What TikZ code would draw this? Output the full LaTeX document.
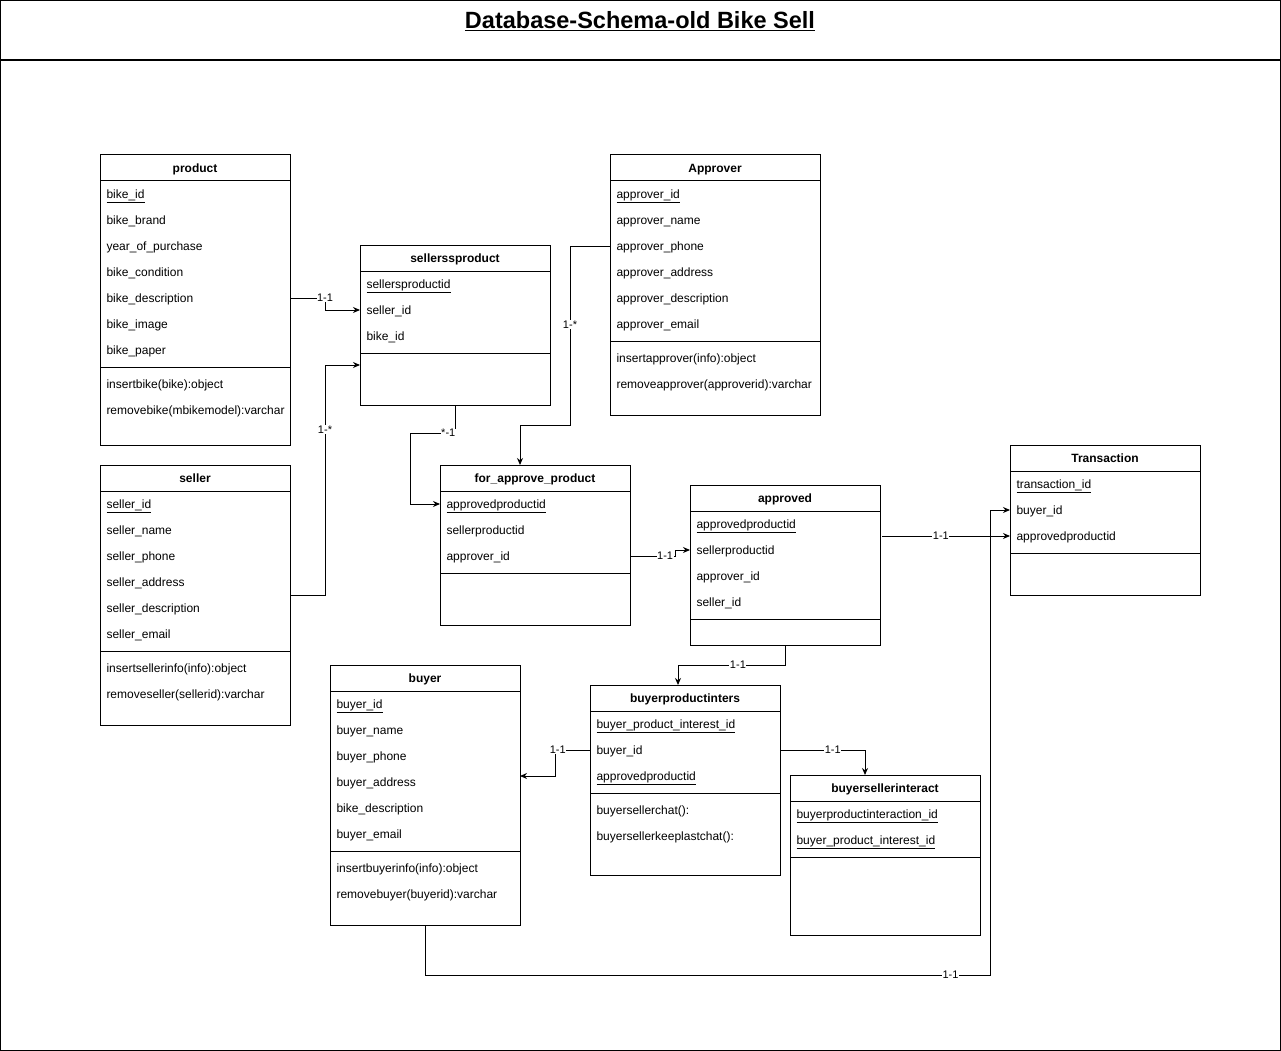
\documentclass[tikz,border=0pt]{standalone}
\usepackage{fontspec}
\setmainfont{Liberation Sans}
\usetikzlibrary{arrows.meta, positioning}

% #1 name, #2/#3 top left, #4 width, #5 height, #6 title, #7 fields, #8 methods
\newcommand{\dbtable}[8]{%
  \node[tbl, minimum width=#4, minimum height=#5] (#1) at (#2,#3) {};
  \node[thead] (#1-h) at ({#2+#4/2},{#3+13}) {#6};
  \draw (#2,{#3+26}) -- ++(#4,0);
  \foreach \f [count=\i] in {#7} {
    \node[field] (#1-\i) at ({#2+6},{#3+13+26*\i}) {\f};
    \xdef\nrows{\i}
  }
  \draw (#2,{#3+30+26*\nrows}) -- ++(#4,0);
  \foreach \m [count=\j] in {#8}
    \node[field] (#1-m\j) at ({#2+6},{#3+21+26*\nrows+26*\j}) {\m};
}

\begin{document}
\begin{tikzpicture}[x=1pt, y=-1pt, line width=1pt,
    tbl/.style={draw, anchor=north west, inner sep=0, outer sep=0},
    thead/.style={inner sep=0, text height=9.5pt, text depth=0.5pt,
      font=\fontsize{12}{14}\selectfont\bfseries},
    field/.style={anchor=west, inner sep=0, text height=9.5pt, text depth=0.5pt,
      font=\fontsize{12}{14}\selectfont},
    conn/.style={-{Stealth[length=7pt,width=6pt]}},
    lab/.style={fill=white, inner sep=0.5pt, font=\fontsize{11}{12}\selectfont}]
  \useasboundingbox (0,0) rectangle (1281,1051);
  \draw[line width=1.3pt] (0.7,0.7) rectangle (1280.3,1050.3);
  \draw[line width=1.3pt] (0.7,60) -- (1280.3,60);
  \node[font=\fontsize{23.5}{26}\selectfont\bfseries] (title) at (640,21)
    {\underline{Database-Schema-old Bike Sell}};

  % tables
  \dbtable{pr}{100}{155}{190}{290}{product}
    {\underline{bike\_id}, bike\_brand, year\_of\_purchase, bike\_condition,
     bike\_description, bike\_image, bike\_paper}
    {insertbike(bike):object, removebike(mbikemodel):varchar}
  \dbtable{sp}{360}{245}{190}{160}{sellerssproduct}
    {\underline{sellersproductid}, seller\_id, bike\_id}{}
  \dbtable{av}{610}{155}{210}{260}{Approver}
    {\underline{approver\_id}, approver\_name, approver\_phone, approver\_address,
     approver\_description, approver\_email}
    {insertapprover(info):object, removeapprover(approverid):varchar}
  \dbtable{sl}{100}{465}{190}{260}{seller}
    {\underline{seller\_id}, seller\_name, seller\_phone, seller\_address,
     seller\_description, seller\_email}
    {insertsellerinfo(info):object, removeseller(sellerid):varchar}
  \dbtable{fa}{440}{465}{190}{160}{for\_approve\_product}
    {\underline{approvedproductid}, sellerproductid, approver\_id}{}
  \dbtable{ap}{690}{485}{190}{160}{approved}
    {\underline{approvedproductid}, sellerproductid, approver\_id, seller\_id}{}
  \dbtable{tr}{1010}{445}{190}{150}{Transaction}
    {\underline{transaction\_id}, buyer\_id, approvedproductid}{}
  \dbtable{by}{330}{665}{190}{260}{buyer}
    {\underline{buyer\_id}, buyer\_name, buyer\_phone, buyer\_address,
     bike\_description, buyer\_email}
    {insertbuyerinfo(info):object, removebuyer(buyerid):varchar}
  \dbtable{bpi}{590}{685}{190}{190}{buyerproductinters}
    {\underline{buyer\_product\_interest\_id}, buyer\_id, \underline{approvedproductid}}
    {buyersellerchat():, buyersellerkeeplastchat():}
  \dbtable{bsi}{790}{775}{190}{160}{buyersellerinteract}
    {\underline{buyerproductinteraction\_id}, \underline{buyer\_product\_interest\_id}}{}

  % relations
  \draw[conn] (pr.east |- pr-5) -- ++(35,0) node[lab, pos=1] {1-1} |- (sp.west |- sp-2);
  \draw[conn] (sl.east) -- ++(35,0) |- ([yshift=40pt]sp.south west) node[lab, pos=0.36] {1-*};
  \draw[conn] (sp.south) -- ++(0,28) -- ++(-45,0) node[lab, pos=0.15] {*-1} |- (fa.west |- fa-1);
  \draw[conn] (av.west |- av-3) -- ++(-40,0) -- ++(0,179) node[lab, pos=0.44] {1-*}
    -| ([xshift=-15pt]fa.north);
  \draw[conn] (fa.east |- fa-3) -- ++(45,0) node[lab, pos=0.78] {1-1} |- (ap.west |- ap-2);
  \draw[conn] ([xshift=2pt]ap.east |- tr-3) -- (tr.west |- tr-3) node[lab, pos=0.46] {1-1};
  \draw[conn] (ap.south) -- ++(0,20) -| ([xshift=-7pt]bpi.north) node[lab, pos=0.22] {1-1};
  \draw[conn] (bpi.west |- bpi-2) -- ++(-35,0) node[lab, pos=0.92] {1-1} |- ([yshift=19pt]by.east);
  \draw[conn] (bpi.east |- bpi-2) -| ([xshift=-20pt]bsi.north) node[lab, pos=0.31] {1-1};
  \draw[conn] (by.south) -- ++(0,50) -- ++(565,0) node[lab, pos=0.93] {1-1} |- (tr.west |- tr-2);
\end{tikzpicture}
\end{document}
